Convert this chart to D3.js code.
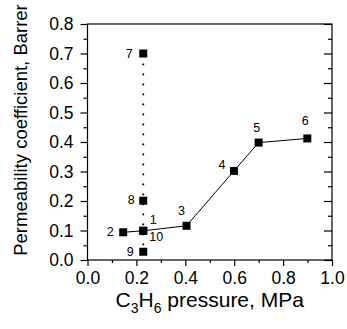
<!DOCTYPE html>
<html>
<head>
<meta charset="utf-8">
<script src="https://cdn.jsdelivr.net/npm/d3@7"></script>
<style>
  body { margin: 0; background: #fff; }
  svg text { font-family: "Liberation Sans", Arial, sans-serif; fill: #000; }
</style>
</head>
<body>
<div id="chart"></div>
<script>
// run numbers and measured values
var runLabels = ['1', '2', '3', '4', '5', '6', '7', '8', '9', '10'];
var pressure = [0.228, 0.146, 0.405, 0.599, 0.70, 0.899, 0.228, 0.228, 0.228, 0.228];
var permeability = [0.099, 0.094, 0.116, 0.302, 0.398, 0.412, 0.70, 0.201, 0.028, 0.099];
// order of runs joined by the solid and the dotted line
var solidPath = ['2', '1', '3', '4', '5', '6'];
var dottedPath = ['7', '8', '1', '9'];
var xTicks = [0, 0.2, 0.4, 0.6, 0.8, 1.0];
var yTicks = [0, 0.1, 0.2, 0.3, 0.4, 0.5, 0.6, 0.7, 0.8];

var W = 347, H = 329;
var margin = {top: 24, right: 15, bottom: 69, left: 87.5};
var width = W - margin.left - margin.right,
    height = H - margin.top - margin.bottom;

var points = runLabels.map(function(l, i) {
    return {label: l, x: pressure[i], y: permeability[i]};
});
var byLabel = {};
points.forEach(function(p) { byLabel[p.label] = p; });

var xScale = d3.scaleLinear().domain([0, 1]).range([0, width]);
var yScale = d3.scaleLinear().domain([0, 0.8]).range([height, 0]);

var svg = d3.select('#chart').append('svg')
    .attr('width', W).attr('height', H)
  .append('g')
    .attr('transform', 'translate(' + margin.left + ',' + margin.top + ')');

var fmt = d3.format('.1f');
var xMinor = d3.range(0.1, 1, 0.2);
var yMinor = d3.range(0.05, 0.8, 0.1);

// minor ticks
svg.append('g').attr('transform', 'translate(0,' + height + ')')
   .call(d3.axisBottom(xScale).tickValues(xMinor).tickSize(3).tickFormat(''));
svg.append('g')
   .call(d3.axisLeft(yScale).tickValues(yMinor).tickSize(4).tickFormat(''));
svg.append('g').attr('transform', 'translate(' + width + ',0)')
   .call(d3.axisLeft(yScale).tickValues(yMinor).tickSize(4).tickFormat(''));
// major ticks
svg.append('g').attr('class', 'x axis').attr('transform', 'translate(0,' + height + ')')
   .call(d3.axisBottom(xScale).tickValues(xTicks).tickSize(6).tickPadding(6).tickFormat(fmt));
svg.append('g').attr('class', 'y axis')
   .call(d3.axisLeft(yScale).tickValues(yTicks).tickSize(7).tickPadding(7).tickFormat(fmt));
svg.append('g').attr('transform', 'translate(' + width + ',0)')
   .call(d3.axisLeft(yScale).tickValues(yTicks).tickSize(8).tickFormat(''));

svg.selectAll('.domain').remove();
svg.selectAll('.tick line').attr('stroke', '#000').attr('stroke-width', 1.2);
svg.selectAll('.axis text').style('font-size', '17.5px');

// frame
svg.append('rect')
   .attr('width', width).attr('height', height)
   .attr('fill', 'none').attr('stroke', '#000').attr('stroke-width', 1.2);

var line = d3.line()
    .x(function(d) { return xScale(d.x); })
    .y(function(d) { return yScale(d.y); });

svg.append('path')
   .attr('d', line(dottedPath.map(function(l) { return byLabel[l]; })))
   .attr('fill', 'none').attr('stroke', '#000')
   .attr('stroke-width', 1.8).attr('stroke-dasharray', '1.8,8.2');

svg.append('path')
   .attr('d', line(solidPath.map(function(l) { return byLabel[l]; })))
   .attr('fill', 'none').attr('stroke', '#000').attr('stroke-width', 1);

svg.selectAll('rect.pt')
   .data(points)
   .enter().append('rect')
   .attr('class', 'pt')
   .attr('x', function(d) { return xScale(d.x) - 4; })
   .attr('y', function(d) { return yScale(d.y) - 4; })
   .attr('width', 8).attr('height', 8)
   .attr('fill', '#000');

// label offsets from marker centre
var labelOffset = {
    '1': [10, -11], '2': [-13, 0], '3': [-5, -15], '4': [-12, -6], '5': [-2, -15],
    '6': [-2, -17], '7': [-14, 0], '8': [-12, -1], '9': [-13, 0], '10': [13, 6]
};
svg.selectAll('text.lab')
   .data(points)
   .enter().append('text')
   .attr('class', 'lab')
   .attr('x', function(d) { return xScale(d.x) + labelOffset[d.label][0]; })
   .attr('y', function(d) { return yScale(d.y) + labelOffset[d.label][1]; })
   .attr('text-anchor', 'middle')
   .attr('dominant-baseline', 'central')
   .style('font-size', '12.5px')
   .text(function(d) { return d.label; });

// axis titles
var xt = svg.append('text')
   .attr('x', width / 2)
   .attr('y', height + 47)
   .attr('text-anchor', 'middle')
   .style('font-size', '21px');
xt.append('tspan').text('C');
xt.append('tspan').attr('dy', 6).style('font-size', '14px').text('3');
xt.append('tspan').attr('dy', -6).text('H');
xt.append('tspan').attr('dy', 6).style('font-size', '14px').text('6');
xt.append('tspan').attr('dy', -6).text(' pressure, MPa');

svg.append('text')
   .attr('transform', 'rotate(-90)')
   .attr('x', -106)
   .attr('y', -61)
   .attr('text-anchor', 'middle')
   .style('font-size', '18.5px')
   .text('Permeability coefficient, Barrer');
</script>
</body>
</html>
